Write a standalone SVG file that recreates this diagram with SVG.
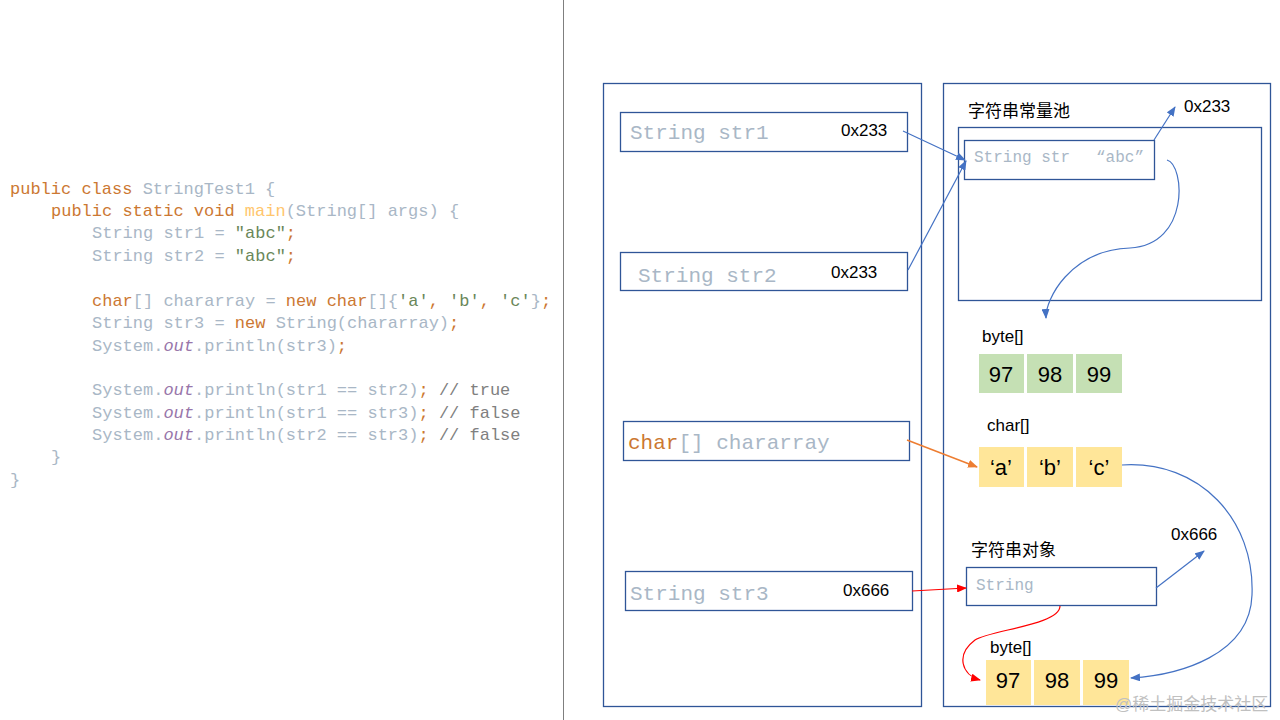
<svg xmlns="http://www.w3.org/2000/svg" width="1280" height="720" viewBox="0 0 1280 720">
<style>
.code{font-family:"Liberation Mono",monospace;font-size:17px;fill:#a9b7c6;white-space:pre}
.k{fill:#cc7832}.s{fill:#6a8759}.m{fill:#ffc66d}.o{fill:#9876aa;font-style:italic}.c{fill:#808080}
.box{fill:#fff;stroke:#2f5597;stroke-width:1.3}
.mono{font-family:"Liberation Mono",monospace;fill:#a9b7c6}
.lbl{font-family:"Liberation Sans","Noto Sans CJK SC",sans-serif;font-size:17px;fill:#000}
.num{font-family:"Liberation Sans",sans-serif;font-size:22px;fill:#000;text-anchor:middle}
.blue{fill:none;stroke:#4472c4;stroke-width:1.2}
.red{fill:none;stroke:#ff0000;stroke-width:1.2}
</style>
<defs>
<marker id="ab" markerWidth="10" markerHeight="8" refX="9" refY="4" orient="auto" markerUnits="userSpaceOnUse"><path d="M0,0 L10,4 L0,8z" fill="#4472c4"/></marker>
<marker id="ar" markerWidth="10" markerHeight="8" refX="9" refY="4" orient="auto" markerUnits="userSpaceOnUse"><path d="M0,0 L10,4 L0,8z" fill="#ff0000"/></marker>
<marker id="ao" markerWidth="10" markerHeight="8" refX="9" refY="4" orient="auto" markerUnits="userSpaceOnUse"><path d="M0,0 L10,4 L0,8z" fill="#ed7d31"/></marker>
</defs>
<rect width="1280" height="720" fill="#fff"/>
<g id="code">
<text class="code" x="10" y="194"><tspan class="k">public class </tspan>StringTest1 {</text>
<text class="code" x="51" y="216"><tspan class="k">public static void </tspan><tspan class="m">main</tspan>(String[] args) {</text>
<text class="code" x="92" y="238">String str1 = <tspan class="s">"abc"</tspan><tspan class="k">;</tspan></text>
<text class="code" x="92" y="261">String str2 = <tspan class="s">"abc"</tspan><tspan class="k">;</tspan></text>
<text class="code" x="92" y="306"><tspan class="k">char</tspan>[] chararray = <tspan class="k">new char</tspan>[]{<tspan class="s">'a'</tspan><tspan class="k">, </tspan><tspan class="s">'b'</tspan><tspan class="k">, </tspan><tspan class="s">'c'</tspan>}<tspan class="k">;</tspan></text>
<text class="code" x="92" y="328">String str3 = <tspan class="k">new </tspan>String(chararray)<tspan class="k">;</tspan></text>
<text class="code" x="92" y="351">System.<tspan class="o">out</tspan>.println(str3)<tspan class="k">;</tspan></text>
<text class="code" x="92" y="395">System.<tspan class="o">out</tspan>.println(str1 == str2)<tspan class="k">; </tspan><tspan class="c">// true</tspan></text>
<text class="code" x="92" y="418">System.<tspan class="o">out</tspan>.println(str1 == str3)<tspan class="k">; </tspan><tspan class="c">// false</tspan></text>
<text class="code" x="92" y="440">System.<tspan class="o">out</tspan>.println(str2 == str3)<tspan class="k">; </tspan><tspan class="c">// false</tspan></text>
<text class="code" x="51" y="462">}</text>
<text class="code" x="10" y="485">}</text>
</g>
<line x1="563.5" y1="0" x2="563.5" y2="720" stroke="#7f7f7f" stroke-width="1"/>
<g id="stack"><rect class="box" x="603.5" y="83.5" width="318" height="623"/></g>
<g id="heap"><rect class="box" x="943.5" y="83.5" width="327" height="623"/></g>
<g id="str1"><rect class="box" x="620.5" y="112.5" width="287" height="39"/>
<text class="mono" x="630" y="139" font-size="21">String str1</text><text class="lbl" x="841" y="136">0x233</text></g>
<g id="str2"><rect class="box" x="620.5" y="252.5" width="287" height="38"/>
<text class="mono" x="638" y="282" font-size="21">String str2</text><text class="lbl" x="831" y="278">0x233</text></g>
<g id="chararray"><rect class="box" x="623.5" y="421.5" width="286" height="39"/>
<text class="mono" x="628" y="449" font-size="21"><tspan fill="#cc7832">char</tspan>[] chararray</text></g>
<g id="str3"><rect class="box" x="625.5" y="571.5" width="287" height="39"/>
<text class="mono" x="630" y="600" font-size="21">String str3</text><text class="lbl" x="843" y="596">0x666</text></g>
<g id="pool"><text class="lbl" x="968" y="117" font-size="18">字符串常量池</text>
<rect class="box" x="958.5" y="127.5" width="303" height="173"/>
<rect class="box" x="964.5" y="140.5" width="190" height="39"/>
<text class="mono" x="974" y="162" font-size="16">String str</text><text class="mono" x="1096" y="162" font-size="16" font-family="Liberation Sans,sans-serif">“abc”</text>
<text class="lbl" x="1184" y="112">0x233</text></g>
<g id="bytes1"><text class="lbl" x="982" y="342">byte[]</text>
<rect x="979" y="354" width="45" height="39" fill="#c5e0b4"/><rect x="1027" y="354" width="46" height="39" fill="#c5e0b4"/><rect x="1076" y="354" width="46" height="39" fill="#c5e0b4"/>
<text class="num" x="1001" y="382">97</text><text class="num" x="1050" y="382">98</text><text class="num" x="1099" y="382">99</text></g>
<g id="chars"><text class="lbl" x="987" y="431">char[]</text>
<rect x="979" y="447" width="45" height="40" fill="#ffe699"/><rect x="1027" y="447" width="46" height="40" fill="#ffe699"/><rect x="1076" y="447" width="46" height="40" fill="#ffe699"/>
<text class="num" x="1001" y="475">‘a’</text><text class="num" x="1050" y="475">‘b’</text><text class="num" x="1099" y="475">‘c’</text></g>
<g id="strobj"><text class="lbl" x="971" y="556" font-size="18">字符串对象</text>
<rect class="box" x="966.5" y="567.5" width="190" height="38"/>
<text class="mono" x="976" y="590" font-size="16">String</text>
<text class="lbl" x="1171" y="540">0x666</text></g>
<g id="bytes2"><text class="lbl" x="990" y="653">byte[]</text>
<rect x="986" y="660" width="45" height="45" fill="#ffe699"/><rect x="1034" y="660" width="46" height="45" fill="#ffe699"/><rect x="1083" y="660" width="46" height="45" fill="#ffe699"/>
<text class="num" x="1008" y="688">97</text><text class="num" x="1057" y="688">98</text><text class="num" x="1106" y="688">99</text></g>
<g id="connectors">
<path class="blue" d="M903,131 L965,160" marker-end="url(#ab)"/>
<path class="blue" d="M908,270 L966,161" marker-end="url(#ab)"/>
<path class="blue" d="M1154,140 L1175,107" marker-end="url(#ab)"/>
<path class="blue" d="M1167,160 C1185,165 1190,245 1130,248 C1070,250 1045,300 1046,318" marker-end="url(#ab)"/>
<path d="M907,440 L977,467" fill="none" stroke="#ed7d31" stroke-width="1.5" marker-end="url(#ao)"/>
<path class="red" d="M912,591 L966,588" marker-end="url(#ar)"/>
<path class="blue" d="M1156,588 L1204,551" marker-end="url(#ab)"/>
<path class="red" d="M1060,606 C1060,625 990,630 975,640 C955,655 962,675 980,680" marker-end="url(#ar)"/>
<path class="blue" d="M1122,465 C1200,460 1255,520 1252,595 C1250,655 1180,675 1131,678" marker-end="url(#ab)"/>
</g>
<text x="1115" y="710" font-family="Liberation Sans,Noto Sans CJK SC,sans-serif" font-size="17" fill="#c0c0c0">@稀土掘金技术社区</text>
</svg>
